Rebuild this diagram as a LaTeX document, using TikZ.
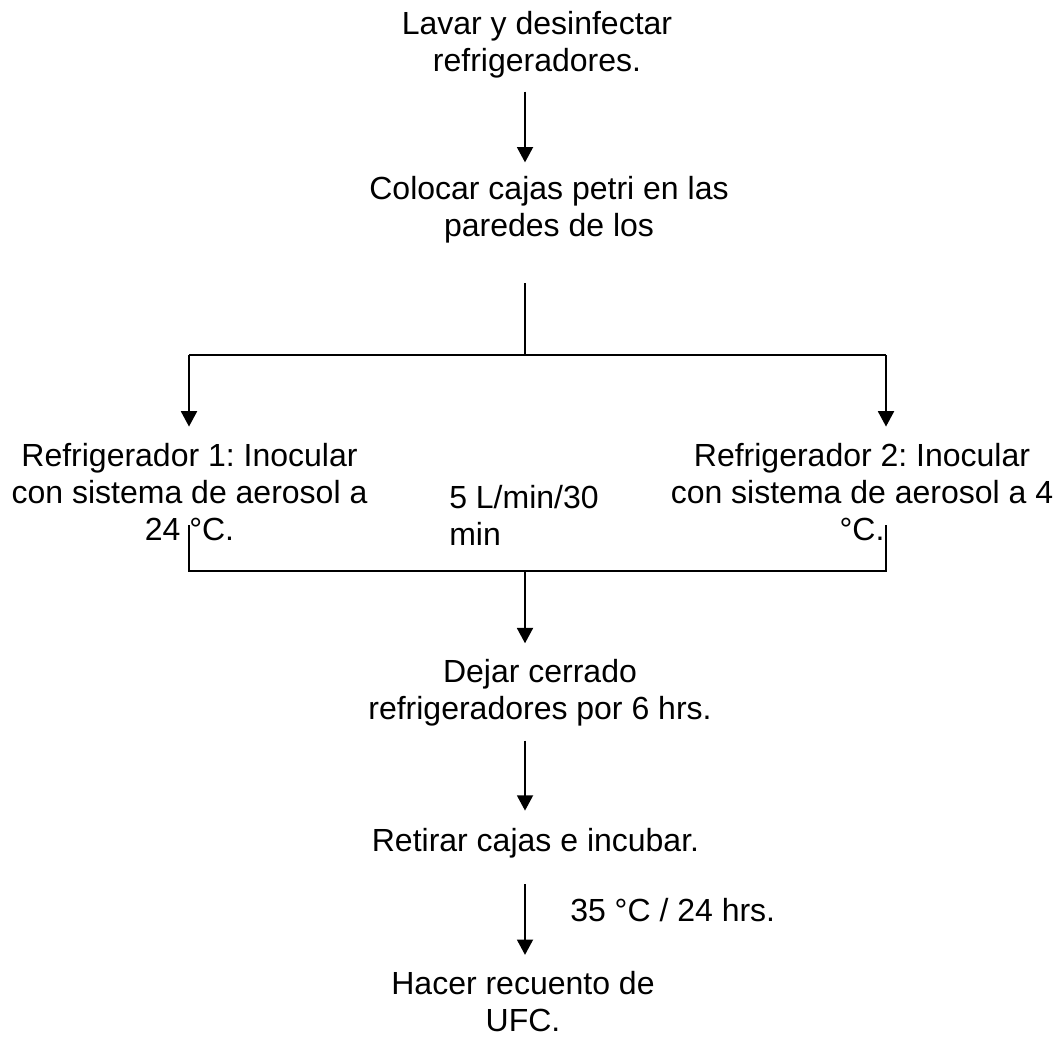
\documentclass[tikz,border=0pt]{standalone}
\usepackage{fontspec}
\setmainfont{Liberation Sans}
\usepackage{tikz}
\usetikzlibrary{arrows.meta}
\frenchspacing

\begin{document}
\begin{tikzpicture}[x=0.75pt,y=-0.75pt,line join=miter,
    stepnode/.style={align=center,inner sep=0pt,anchor=base,font=\fontsize{24pt}{27.4pt}\selectfont},
    notenode/.style={align=left,inner sep=0pt,anchor=base west,font=\fontsize{24pt}{27.4pt}\selectfont},
    flow/.style={line width=1.4pt,-{Triangle[length=11.5pt,width=12pt]}},
    link/.style={line width=1.4pt}]
  \useasboundingbox (0,0) rectangle (1062,1036);
  % steps (base = baseline of the last line)
  \node[stepnode] (lavar) at (537,71) {Lavar y desinfectar\\refrigeradores.};
  \node[stepnode] (colocar) at (549,236.5) {Colocar cajas petri en las\\paredes de los};
  \node[stepnode] (ref1) at (189.5,540) {Refrigerador 1: Inocular\\con sistema de aerosol a\\24 °C.};
  \node[stepnode] (ref2) at (862,540) {Refrigerador 2: Inocular\\con sistema de aerosol a 4\\°C.};
  \node[stepnode] (dejar) at (540,719.5) {Dejar cerrado\\refrigeradores por 6 hrs.};
  \node[stepnode] (retirar) at (535.5,851) {Retirar cajas e incubar.};
  \node[stepnode] (hacer) at (523,1031.5) {Hacer recuento de\\UFC.};
  % conditions
  \node[notenode] (rate) at (449,545) {5 L/min/30\\min};
  \node[notenode] (temp) at (570,921.7) {35 °C / 24 hrs.};
  % branch points
  \coordinate (spine) at (525,0);
  \coordinate (fork) at (525,355);
  \coordinate (forkL) at (189,355);
  \coordinate (forkR) at (886,355);
  \coordinate (tickL) at (189,525);
  \coordinate (tickR) at (886,525);
  \coordinate (joinL) at (189,571);
  \coordinate (joinR) at (886,571);
  \coordinate (merge) at (525,571);
  % connectors
  \draw[flow,shorten <=10.3pt,shorten >=10.6pt] (lavar.south -| spine) -- (colocar.north -| spine);
  \draw[link,shorten <=29.8pt] (colocar.south -| spine) -- (fork);
  \draw[link] (forkL) -- (forkR);
  \draw[flow,shorten >=12.7pt] (forkL) -- (ref1.north -| forkL);
  \draw[flow,shorten >=12.7pt] (forkR) -- (ref2.north -| forkR);
  \draw[link] (tickL) -- (joinL) -- (joinR) -- (tickR);
  \draw[flow,shorten >=12.2pt] (merge) -- (dejar.north -| merge);
  \draw[flow,shorten <=10.6pt,shorten >=12.7pt] (dejar.south -| spine) -- (retirar.north -| spine);
  \draw[flow,shorten <=19.7pt,shorten >=12.5pt] (retirar.south -| spine) -- (hacer.north -| spine);
\end{tikzpicture}
\end{document}
